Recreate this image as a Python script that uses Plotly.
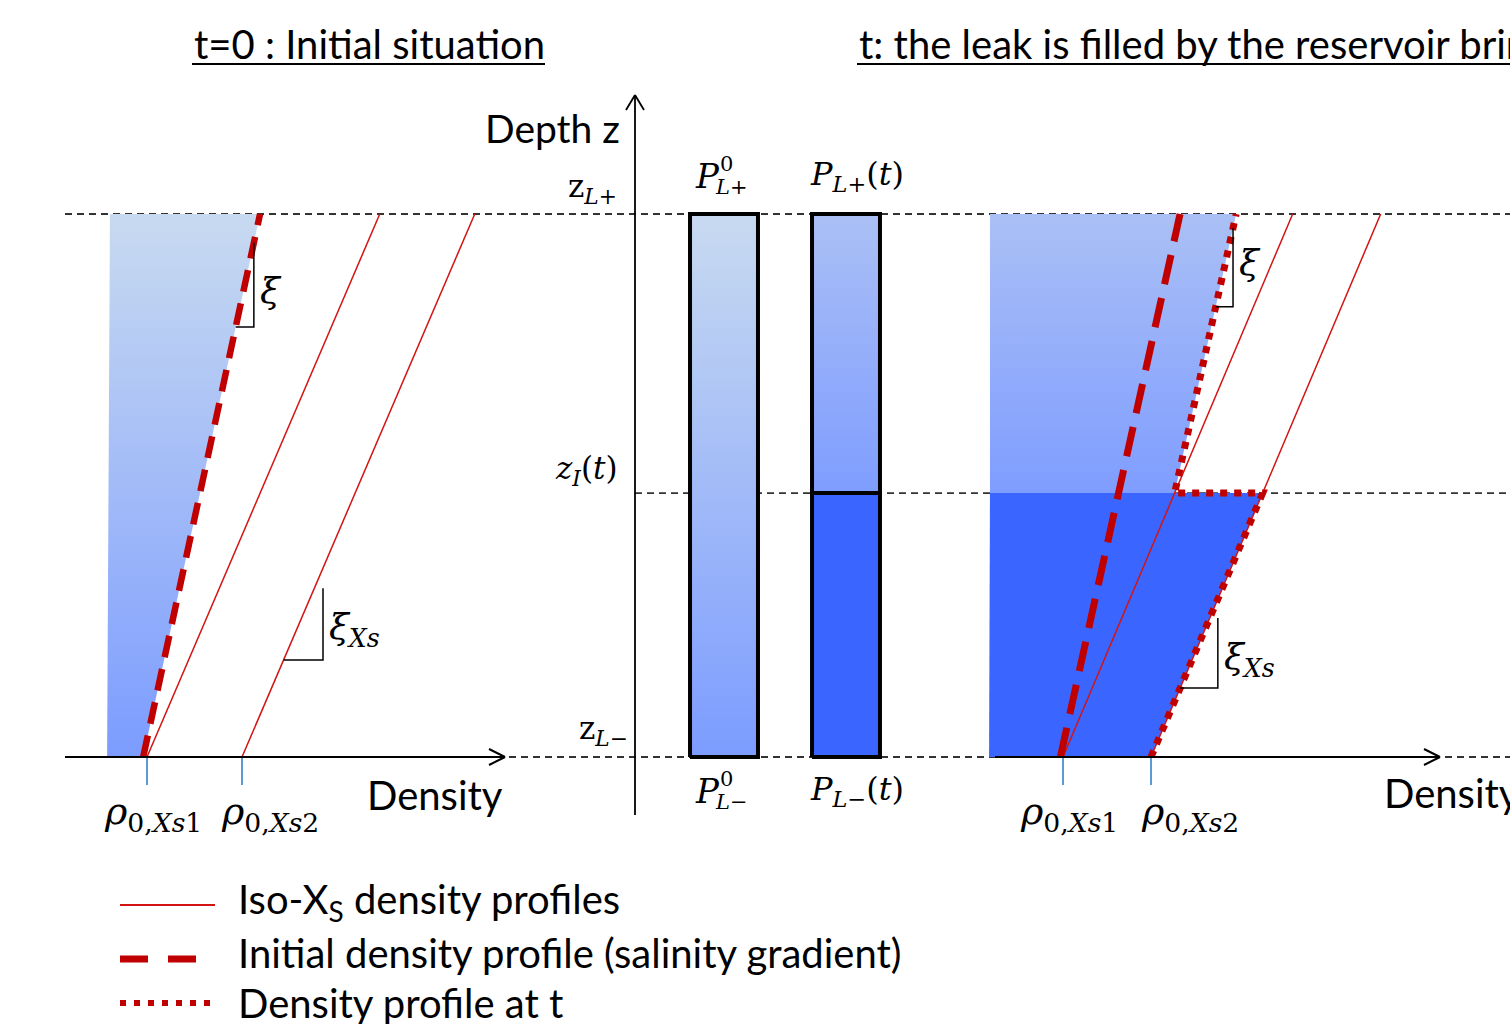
import plotly.graph_objects as go

W, H = 1510, 1024

# ---------------- diagram values (arbitrary units) ----------------
# depth levels (z_L- = 0, z_L+ = 1)
Z_BOT, Z_I, Z_TOP = 0.0, 0.486, 1.0

# left panel: t = 0
left_rho0 = [1.0, 2.0]            # rho_0,Xs1 , rho_0,Xs2
left_iso_rise = 2.45              # density rise of an iso-Xs profile over the leak height
left_init = [0.96, 2.19]          # initial profile density at z_L- and z_L+
left_fill_edge = [0.58, 0.61]     # left edge of the shaded brine column at z_L-, z_L+

# right panel: time t
right_rho0 = [1.0, 2.0]
right_iso_rise = 2.61
right_init = [0.97, 2.33]
right_fill_edge = [0.16, 0.17]

# middle panel: pressure columns
col_center = [1.0, 2.0]
col_width = 0.557

# colours
C_RED = "#C00000"
C_ISO = "#D21414"
C_LIGHT_TOP = "#C8DAF0"
C_LIGHT_BOT = "#7C9CFF"
C_MID_TOP = "#AAC0F5"
C_MID_BOT = "#7F9DFF"
C_DARK = "#3A66FF"
C_TICK = "#5B9BD5"

SANS = "Lato"
SERIF = "DejaVu Serif"

# ---------------- axis mapping (layout) ----------------
Z0_PY, ZU = 757.0, 543.0


def xr(px_at_1, pxu):
    return [1 - px_at_1 / pxu, 1 + (W - px_at_1) / pxu]


fig = go.Figure()


def line(xs, ys, xa, color, width, dash=None):
    fig.add_trace(go.Scatter(x=xs, y=ys, xaxis=xa, yaxis="y", mode="lines",
                             line=dict(color=color, width=width, dash=dash),
                             hoverinfo="skip", showlegend=False))


def poly(xs, ys, xa, grad=None, color=None, outline=None, owidth=0):
    kw = dict(x=xs + [xs[0]], y=ys + [ys[0]], xaxis=xa, yaxis="y", mode="lines",
              fill="toself", hoverinfo="skip", showlegend=False,
              line=dict(color=outline or "rgba(0,0,0,0)", width=owidth))
    if grad is not None:
        kw["fillgradient"] = dict(type="vertical", colorscale=grad[0],
                                  start=grad[1], stop=grad[2])
        kw["fillcolor"] = grad[0][0][1]
    else:
        kw["fillcolor"] = color
    fig.add_trace(go.Scatter(**kw))


def iso(rho0, rise, z):
    return rho0 + rise * z


shapes = []
annotations = []


def pxp(px, py):
    return px / W, 1 - py / H


def px_line(x0, y0, x1, y1, color="black", width=2, dash=None):
    a, b = pxp(x0, y0)
    c, d = pxp(x1, y1)
    shapes.append(dict(type="line", xref="paper", yref="paper", x0=a, y0=b, x1=c, y1=d,
                       line=dict(color=color, width=width, dash=dash), layer="above"))


def px_text(text, px, py, size, family=SANS, xanchor="left", color="black"):
    a, b = pxp(px, py)
    annotations.append(dict(text=text, x=a, y=b, xref="paper", yref="paper",
                            xanchor=xanchor, yanchor="middle", showarrow=False,
                            font=dict(family=family, size=size, color=color)))


def data_text(text, x, y, xa, size, family=SERIF, xanchor="center", xshift=0, yshift=0):
    annotations.append(dict(text=text, x=x, y=y, xref=xa, yref="y",
                            xanchor=xanchor, yanchor="middle", showarrow=False,
                            xshift=xshift, yshift=yshift,
                            font=dict(family=family, size=size, color="black")))


# ---------------- reference depth levels ----------------
for z, x0 in [(Z_TOP, 65), (Z_I, 635), (Z_BOT, 65)]:
    shapes.append(dict(type="line", xref="paper", yref="y", x0=x0 / W, x1=1, y0=z, y1=z,
                       line=dict(color="#333333", width=1.8, dash="7px,5px"), layer="below"))

# ---------------- left panel ----------------
xa = "x"
poly([left_fill_edge[0], left_init[0], left_init[1], left_fill_edge[1]],
     [Z_BOT, Z_BOT, Z_TOP, Z_TOP], xa,
     grad=([[0, C_LIGHT_BOT], [1, C_LIGHT_TOP]], Z_BOT, Z_TOP))
for r in left_rho0:
    line([iso(r, left_iso_rise, Z_BOT), iso(r, left_iso_rise, Z_TOP)], [Z_BOT, Z_TOP], xa, C_ISO, 1.5)
line(left_init, [Z_BOT, Z_TOP], xa, C_RED, 6.5, "22px,12px")


def init_at(prof, z):
    return prof[0] + (prof[1] - prof[0]) * z


# slope triangles
def triangle(fx, zx, zt, zb, xa, label, lsize, lyz):
    xv = fx(zx)
    line([xv, xv, fx(zb)], [zt, zb, zb], xa, "black", 1.5)
    data_text(label, xv, lyz, xa, lsize, xanchor="left", xshift=4)


triangle(lambda z: init_at(left_init, z), 0.947, 0.947, 0.792, xa, "<i>ξ</i>", 36, 0.86)
triangle(lambda z: iso(left_rho0[1], left_iso_rise, z), 0.348, 0.311, 0.1786, xa,
         "<i>ξ<sub>Xs</sub></i>", 36, 0.235)

# ticks + labels
for i, (r, sh) in enumerate(zip(left_rho0, [6, 28])):
    line([r, r], [Z_BOT, Z_BOT - 28 / ZU], xa, C_TICK, 2)
    data_text(f"<i>ρ</i><sub>0,<i>Xs</i>{i+1}</sub>", r, Z_BOT, xa, 38, xshift=sh, yshift=-56)

# density axis arrow
px_line(65, 757, 505, 757, width=2)
px_line(505, 757, 489, 749, width=2)
px_line(505, 757, 489, 765, width=2)
px_text("Density", 505, 795, 40, xanchor="right")

# ---------------- middle panel ----------------
xa = "x2"
c0, c1 = col_center
hw = col_width / 2
poly([c0 - hw, c0 + hw, c0 + hw, c0 - hw], [Z_BOT, Z_BOT, Z_TOP, Z_TOP], xa,
     grad=([[0, C_LIGHT_BOT], [1, C_LIGHT_TOP]], Z_BOT, Z_TOP), outline="black", owidth=4)
poly([c1 - hw, c1 + hw, c1 + hw, c1 - hw], [Z_I, Z_I, Z_TOP, Z_TOP], xa,
     grad=([[0, C_MID_BOT], [1, C_MID_TOP]], Z_I, Z_TOP), outline="black", owidth=4)
poly([c1 - hw, c1 + hw, c1 + hw, c1 - hw], [Z_BOT, Z_BOT, Z_I, Z_I], xa,
     color=C_DARK, outline="black", owidth=4)

# P labels (stacked super/subscripts)
for c, z, ys in [(c0, Z_TOP, 38), (c0, Z_BOT, -34)]:
    sgn = "+" if z == Z_TOP else "−"
    data_text("<i>P</i>", c, z, xa, 34, xshift=-17, yshift=ys)
    data_text("0", c, z, xa, 21, xshift=2, yshift=ys + 12)
    data_text(f"<i>L</i>{sgn}", c, z, xa, 21, xshift=7, yshift=ys - 11)
data_text("<i>P</i><sub><i>L</i>+</sub>(<i>t</i>)", c1, Z_TOP, xa, 32, xshift=11, yshift=38)
data_text("<i>P</i><sub><i>L</i>−</sub>(<i>t</i>)", c1, Z_BOT, xa, 32, xshift=11, yshift=-34)

# depth axis
px_line(635, 815, 635, 95, width=1.8)
px_line(635, 95, 626, 110, width=1.8)
px_line(635, 95, 644, 110, width=1.8)
px_text("Depth z", 622, 128, 39, xanchor="right")
px_text("z<sub><i>L</i>+</sub>", 619, 188, 31, family=SERIF, xanchor="right")
px_text("<i>z<sub>I</sub></i>(<i>t</i>)", 620, 470, 31, family=SERIF, xanchor="right")
px_text("z<sub><i>L</i>−</sub>", 630, 730, 31, family=SERIF, xanchor="right")

# ---------------- right panel ----------------
xa = "x3"
iso1_zi = iso(right_rho0[0], right_iso_rise, Z_I)
iso2_zi = iso(right_rho0[1], right_iso_rise, Z_I)
init_slope = right_init[1] - right_init[0]
upper_top = iso1_zi + init_slope * (Z_TOP - Z_I)

poly([right_fill_edge[1], iso1_zi, upper_top, right_fill_edge[1]],
     [Z_I, Z_I, Z_TOP, Z_TOP], xa,
     grad=([[0, C_MID_BOT], [1, C_MID_TOP]], Z_I, Z_TOP))
poly([right_fill_edge[0], right_rho0[1], iso2_zi, right_fill_edge[1]],
     [Z_BOT, Z_BOT, Z_I, Z_I], xa, color=C_DARK)

for r in right_rho0:
    line([iso(r, right_iso_rise, Z_BOT), iso(r, right_iso_rise, Z_TOP)], [Z_BOT, Z_TOP], xa, C_ISO, 1.5)
line(right_init, [Z_BOT, Z_TOP], xa, C_RED, 7, "30px,14px")
line([right_rho0[1], iso2_zi, iso1_zi, upper_top], [Z_BOT, Z_I, Z_I, Z_TOP], xa, C_RED, 7, "7px,7px")

triangle(lambda z: iso1_zi + init_slope * (z - Z_I), 0.974, 0.974, 0.829, xa, "<i>ξ</i>", 36, 0.91)
triangle(lambda z: iso(right_rho0[1], right_iso_rise, z), 0.291, 0.256, 0.127, xa,
         "<i>ξ<sub>Xs</sub></i>", 36, 0.18)

for i, (r, sh) in enumerate(zip(right_rho0, [6, 39])):
    line([r, r], [Z_BOT, Z_BOT - 28 / ZU], xa, C_TICK, 2)
    data_text(f"<i>ρ</i><sub>0,<i>Xs</i>{i+1}</sub>", r, Z_BOT, xa, 38, xshift=sh, yshift=-56)

px_line(995, 757, 1440, 757, width=2)
px_line(1440, 757, 1424, 749, width=2)
px_line(1440, 757, 1424, 765, width=2)
px_text("Density", 1382, 793, 40)

# ---------------- titles ----------------
px_text("t=0 : Initial situation", 192, 44, 40)
px_line(192, 64, 545, 64, width=2)
px_text("t: the leak is filled by the reservoir brine", 857, 44, 40)
px_line(857, 64, 1510, 64, width=2)

# ---------------- legend ----------------
px_line(120, 905, 215, 905, color=C_ISO, width=2)
px_line(120, 959, 200, 959, color=C_RED, width=7, dash="28px,20px")
px_line(120, 1003, 212, 1003, color=C_RED, width=6, dash="6px,8px")
px_text("Iso-X<sub>S</sub> density profiles", 236, 901, 40)
px_text("Initial density profile (salinity gradient)", 236, 953, 40)
px_text("Density profile at t", 236, 1003, 40)

fig.update_layout(
    width=W, height=H, margin=dict(l=0, r=0, t=0, b=0),
    paper_bgcolor="white", plot_bgcolor="white", showlegend=False,
    xaxis=dict(domain=[0, 1], range=xr(147, 95), visible=False, fixedrange=True),
    xaxis2=dict(overlaying="x", anchor="y", range=xr(724, 122), visible=False, fixedrange=True),
    xaxis3=dict(overlaying="x", anchor="y", range=xr(1063, 88), visible=False, fixedrange=True),
    yaxis=dict(domain=[0, 1], range=[(Z0_PY - H) / ZU, Z0_PY / ZU], visible=False, fixedrange=True),
    shapes=shapes, annotations=annotations,
)

fig.write_html("out.html", config={"displayModeBar": False},
               post_script="document.body.style.margin='0';document.body.style.overflow='hidden';")
